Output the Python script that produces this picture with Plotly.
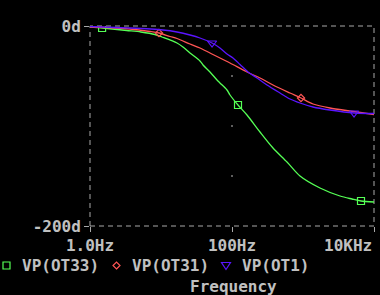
import plotly.graph_objects as go

# ---------------- data ----------------
green_freq = [1, 1.5, 3.3, 5.2, 8.2, 10.3, 16.8, 20.4, 25.6, 35.4, 39.1, 49, 61.5, 67.7, 85,
              93.7, 121.5, 162.6, 248, 378, 595, 907, 1735, 3320, 4900, 6560, 10000]
green_phase = [-1, -2, -4.5, -6, -8.5, -11, -17, -21, -27, -35, -39, -46, -54, -57, -64,
               -69, -79, -89, -106, -122, -136, -150, -162, -170, -173, -175, -176]

red_freq = [1, 2.25, 3.66, 7.0, 9.37, 13.4, 16.8, 25.6, 35.4, 49, 93.7, 162.6, 248, 378,
            656, 937, 1383, 2400, 4590, 10000]
red_phase = [-1, -2, -3, -5.5, -7, -10.5, -12.5, -18, -22, -27, -37, -46, -52, -59,
             -67, -72, -78, -82, -85, -88.5]

blue_freq = [1, 3.66, 10.67, 16.8, 25.6, 35.4, 52.3, 67.7, 85, 103.3, 129.7, 168, 225, 311,
             474, 656, 907, 1383, 2400, 5230, 10000]
blue_phase = [-0.5, -2, -4, -6, -9, -12, -17, -22, -28, -32, -38.5, -46, -52, -59,
              -67, -73, -77, -81, -84, -87, -87.5]

green_mk_freq = [1.48, 121.5, 6560]
green_mk_phase = [-2, -79, -175]
red_mk_freq = [9.37, 937]
red_mk_phase = [-7, -72]
blue_mk_freq = [52.3, 5230]
blue_mk_phase = [-17, -87]

series_names = ["VP(OT33)", "VP(OT31)", "VP(OT1)"]
x_tickvals = [1, 100, 10000]
x_ticktext = ["1.0Hz", "100Hz", "10KHz"]
y_tickvals = [0, -200]
y_ticktext = ["0d", "-200d"]
grid_dot_x = [100, 100, 100]
grid_dot_y = [-50, -100, -150]
x_title = "Frequency"

# ---------------- style ----------------
W, H = 380, 295
L, R, T, B = 90, 6, 26, 69
PW, PH = W - L - R, H - T - B
GREEN, RED, BLUE = "#55ff55", "#ff5555", "#5a14ff"
TXT = "#c0c0c0"
GRID = "#a8a8a8"
FONT = "DejaVu Sans Mono"
TFONT = dict(family=FONT, size=16, color=TXT, weight="bold")


def px2x(px):
    return (px - L) / PW


def py2y(py):
    return (H - B - py) / PH


fig = go.Figure()
specs = [
    (green_freq, green_phase, green_mk_freq, green_mk_phase, GREEN, "square-open", 7),
    (red_freq, red_phase, red_mk_freq, red_mk_phase, RED, "diamond-open", 5.5),
    (blue_freq, blue_phase, blue_mk_freq, blue_mk_phase, BLUE, "triangle-down-open", 8),
]
for name, (f, p, mf, mp, col, sym, sz) in zip(series_names, specs):
    fig.add_trace(go.Scatter(x=f, y=p, mode="lines", name=name,
                             line=dict(color=col, width=1.3, shape="spline", smoothing=0.8),
                             showlegend=False))
    fig.add_trace(go.Scatter(x=mf, y=mp, mode="markers", name=name,
                             marker=dict(symbol=sym, size=sz, color=col,
                                         line=dict(color=col, width=1.2)),
                             showlegend=False))

fig.add_trace(go.Scatter(x=grid_dot_x, y=grid_dot_y, mode="markers", showlegend=False,
                         marker=dict(symbol="square", size=1.5, color=GRID)))

axis_common = dict(showgrid=False, zeroline=False, showline=False, ticks="outside",
                   ticklen=5, tickcolor=GRID, tickwidth=1,
                   automargin=False, tickfont=TFONT)
# the last x label sits flush with the right edge, so it is drawn right-aligned below
fig.update_xaxes(type="log", range=[0, 4], tickmode="array", tickvals=x_tickvals,
                 ticktext=x_ticktext[:-1] + [""], **axis_common)
fig.update_yaxes(range=[-200, 0], tickmode="array", tickvals=y_tickvals,
                 ticktext=y_ticktext, **axis_common)
fig.add_annotation(x=1, y=py2y(245.5), xref="paper", yref="paper", text=x_ticktext[-1],
                   showarrow=False, xanchor="right", yanchor="middle", font=TFONT)

# dashed frame
fig.add_shape(type="rect", xref="paper", yref="paper", x0=0, x1=1, y0=0, y1=1,
              line=dict(color=GRID, width=1, dash="5px,4px"), layer="below")

# legend row (keys drawn as pixel-sized shapes, labels as text)
leg_y = py2y(265.5)
key_x = [6.5, 116.5, 226]
lab_x = [20, 130, 240]
paths = [
    "M-3.5,-3.5 L3.5,-3.5 L3.5,3.5 L-3.5,3.5 Z",
    "M0,-3.5 L3.5,0 L0,3.5 L-3.5,0 Z",
    "M-4.5,3 L4.5,3 L0,-4 Z",
]
for kx, lx, pth, col, name in zip(key_x, lab_x, paths, [GREEN, RED, BLUE], series_names):
    fig.add_shape(type="path", xref="paper", yref="paper", xsizemode="pixel",
                  ysizemode="pixel", xanchor=px2x(kx), yanchor=leg_y, path=pth,
                  line=dict(color=col, width=1.2))
    fig.add_annotation(x=px2x(lx), y=leg_y, xref="paper", yref="paper", text=name,
                       showarrow=False, xanchor="left", yanchor="middle", font=TFONT)

fig.add_annotation(x=px2x(233), y=py2y(286), xref="paper", yref="paper", text=x_title,
                   showarrow=False, xanchor="center", yanchor="middle", font=TFONT)

fig.update_layout(width=W, height=H, margin=dict(l=L, r=R, t=T, b=B, pad=0, autoexpand=False),
                  paper_bgcolor="black", plot_bgcolor="black", showlegend=False,
                  font=dict(family=FONT, color=TXT))

fig.write_html("out.html")
